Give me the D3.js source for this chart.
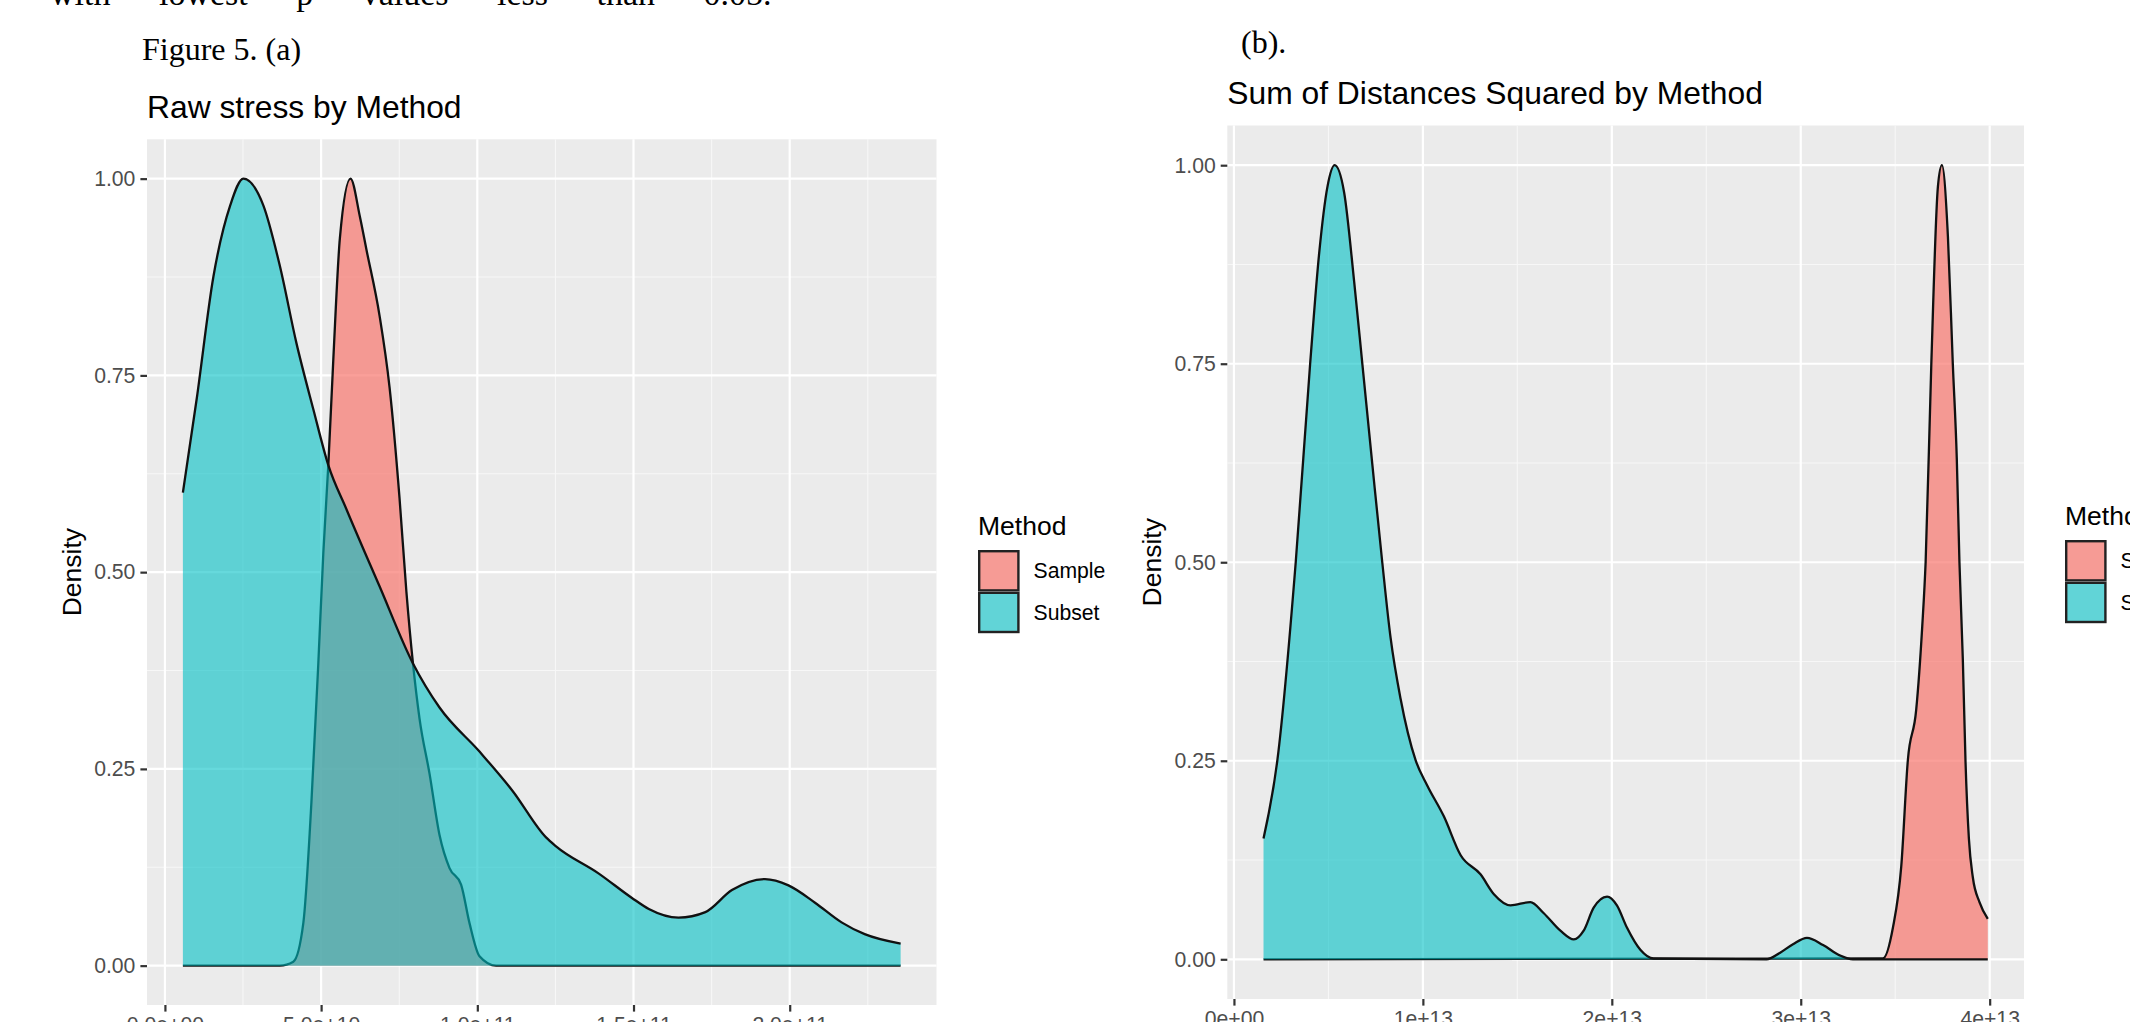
<!DOCTYPE html>
<html>
<head>
<meta charset="utf-8">
<script src="https://cdn.jsdelivr.net/npm/d3@7"></script>
<style>
  html, body { margin: 0; padding: 0; background: #fff; overflow: hidden; }
  svg { display: block; }
</style>
</head>
<body>
<div id="chart"></div>
<script>
// ---- data ----
// panel (a): raw stress, x in units of 1e10
let rawSample = [
  [0.575, 0], [3.68, 0], [4.11, 0.005], [4.43, 0.054], [4.69, 0.208], [4.91, 0.384],
  [5.07, 0.524], [5.23, 0.636], [5.39, 0.77], [5.6, 0.924], [5.94, 1.0], [6.24, 0.952],
  [6.45, 0.91], [6.87, 0.826], [7.19, 0.735], [7.51, 0.594], [7.73, 0.475], [7.94, 0.384],
  [8.15, 0.314], [8.47, 0.244], [8.79, 0.166], [9.11, 0.124], [9.48, 0.103], [9.75, 0.054],
  [10.07, 0.012], [10.6, 0], [23.55, 0]
];
let rawSubset = [
  [0.575, 0.601], [1.02, 0.721], [1.55, 0.875], [2.09, 0.966], [2.51, 1.0], [3.15, 0.966],
  [3.68, 0.889], [4.21, 0.791], [4.75, 0.707], [5.23, 0.636], [5.81, 0.58], [6.87, 0.482],
  [7.94, 0.384], [8.79, 0.328], [10.07, 0.272], [11.13, 0.222], [12.2, 0.163], [12.51, 0.152],
  [13.89, 0.117], [14.95, 0.086], [15.49, 0.072], [16.44, 0.061], [17.3, 0.068], [18.15, 0.096],
  [19.21, 0.11], [19.96, 0.102], [20.81, 0.08], [21.66, 0.055], [22.4, 0.04], [23.55, 0.028]
];
// panel (b): sum of distances squared, x in units of 1e12
let sdsSample = [
  [1.565, 0], [34.35, 0.001], [34.88, 0.04], [35.32, 0.117], [35.67, 0.251], [36.11, 0.314],
  [36.43, 0.419], [36.61, 0.5], [36.91, 0.749], [37.26, 0.973], [37.47, 1.0], [37.79, 0.91],
  [38.05, 0.749], [38.26, 0.63], [38.4, 0.5], [38.58, 0.377], [38.72, 0.25], [38.9, 0.152],
  [39.11, 0.103], [39.46, 0.072], [39.9, 0.051]
];
let sdsSubset = [
  [1.565, 0.152], [2.3, 0.251], [3.27, 0.5], [4.03, 0.749], [4.51, 0.889], [4.95, 0.973],
  [5.33, 1.0], [5.83, 0.966], [6.36, 0.854], [6.8, 0.749], [7.33, 0.622], [7.85, 0.5],
  [8.29, 0.405], [8.82, 0.328], [9.61, 0.251], [10.23, 0.219], [11.11, 0.18], [12.0, 0.131],
  [13.05, 0.107], [13.76, 0.082], [14.64, 0.068], [15.69, 0.072], [16.4, 0.058], [17.28, 0.036],
  [17.99, 0.025], [18.51, 0.036], [19.04, 0.065], [19.75, 0.079], [20.27, 0.068], [20.8, 0.04],
  [21.51, 0.012], [22.21, 0.001], [28.19, 0], [28.89, 0.008], [29.59, 0.019], [30.33, 0.027],
  [31.18, 0.018], [32.06, 0.005], [32.76, 0], [39.9, 0]
];

let methods = ["Sample", "Subset"];
let yTicks = [0, 0.25, 0.5, 0.75, 1];
let rawTicks = [0, 5, 10, 15, 20];
let rawTickLabels = ["0.0e+00", "5.0e+10", "1.0e+11", "1.5e+11", "2.0e+11"];
let sdsTicks = [0, 10, 20, 30, 40];
let sdsTickLabels = ["0e+00", "1e+13", "2e+13", "3e+13", "4e+13"];

let fillCol = { Sample: "rgba(248,118,109,0.7)", Subset: "rgba(0,191,196,0.6)" };

let W = 2130, H = 1022;
let sans = "'Liberation Sans', Arial, Helvetica, sans-serif",
  serif = "'Liberation Serif', 'Times New Roman', serif";

let svg = d3
  .select("#chart")
  .append("svg")
  .attr("width", W)
  .attr("height", H);

// document text around the figure (top line is cut by the page edge)
svg.append("text")
  .attr("x", 50).attr("y", 5)
  .style("font-family", serif).style("font-size", "34px")
  .style("word-spacing", "40px")
  .text("with lowest p values less than 0.05.");
svg.append("text")
  .attr("x", 142).attr("y", 60)
  .style("font-family", serif).style("font-size", "32px")
  .text("Figure 5. (a)");
svg.append("text")
  .attr("x", 1241).attr("y", 53)
  .style("font-family", serif).style("font-size", "32px")
  .text("(b).");

let drawPanel = (p) => {
  var g = svg.append("g");
  var all = p.series[0].concat(p.series[1]);
  var xExt = d3.extent(all, (d) => d[0]),
    pad = (xExt[1] - xExt[0]) * 0.05;

  var X = d3.scaleLinear().domain([xExt[0] - pad, xExt[1] + pad]).range([p.left, p.right]),
    Y = d3.scaleLinear().domain([-0.05, 1.05]).range([p.bottom, p.top]);

  // panel background + grid
  g.append("rect")
    .attr("x", p.left).attr("y", p.top)
    .attr("width", p.right - p.left).attr("height", p.bottom - p.top)
    .attr("fill", "#EBEBEB");

  var xMinor = p.ticks.slice(0, -1).map((t, i) => (t + p.ticks[i + 1]) / 2);
  xMinor.push(p.ticks[p.ticks.length - 1] + (p.ticks[1] - p.ticks[0]) / 2);
  xMinor = xMinor.filter((t) => t > X.domain()[0] && t < X.domain()[1]);
  var yMinor = [0.125, 0.375, 0.625, 0.875];

  g.selectAll(null).data(yMinor).enter().append("line")
    .attr("x1", p.left).attr("x2", p.right)
    .attr("y1", (d) => Y(d)).attr("y2", (d) => Y(d))
    .attr("stroke", "#F7F7F7").attr("stroke-width", 1.1);
  g.selectAll(null).data(xMinor).enter().append("line")
    .attr("y1", p.top).attr("y2", p.bottom)
    .attr("x1", (d) => X(d)).attr("x2", (d) => X(d))
    .attr("stroke", "#F7F7F7").attr("stroke-width", 1.1);
  g.selectAll(null).data(yTicks).enter().append("line")
    .attr("x1", p.left).attr("x2", p.right)
    .attr("y1", (d) => Y(d)).attr("y2", (d) => Y(d))
    .attr("stroke", "#fff").attr("stroke-width", 2.2);
  g.selectAll(null).data(p.ticks).enter().append("line")
    .attr("y1", p.top).attr("y2", p.bottom)
    .attr("x1", (d) => X(d)).attr("x2", (d) => X(d))
    .attr("stroke", "#fff").attr("stroke-width", 2.2);

  // densities
  var area = d3.area().curve(d3.curveMonotoneX)
      .x((d) => X(d[0])).y0(Y(0)).y1((d) => Y(d[1])),
    line = d3.line().curve(d3.curveMonotoneX)
      .x((d) => X(d[0])).y((d) => Y(d[1]));

  methods.forEach((m, i) => {
    g.append("path").attr("d", area(p.series[i])).attr("fill", fillCol[m]);
    g.append("path").attr("d", line(p.series[i]))
      .attr("fill", "none").attr("stroke", "#111").attr("stroke-width", 2.3);
  });

  // axes
  var yAxis = g.append("g")
    .attr("transform", `translate(${p.left},0)`)
    .call(d3.axisLeft(Y).tickValues(yTicks).tickFormat(d3.format(".2f")).tickSize(6.6).tickPadding(5));
  var xAxis = g.append("g")
    .attr("transform", `translate(0,${p.bottom})`)
    .call(d3.axisBottom(X).tickValues(p.ticks).tickFormat((d, i) => p.tickLabels[i]).tickSize(6.6).tickPadding(5));
  [yAxis, xAxis].forEach((a) => {
    a.select(".domain").remove();
    a.selectAll(".tick line").attr("stroke", "#333").attr("stroke-width", 2.2);
    a.selectAll(".tick text")
      .attr("fill", "#4D4D4D")
      .style("font-family", sans).style("font-size", "21.2px");
  });

  // titles
  g.append("text")
    .attr("x", p.left).attr("y", p.top - 21.3)
    .style("font-family", sans).style("font-size", "31.8px")
    .text(p.title);
  g.append("text")
    .attr("transform", `translate(${p.left - 66},${(p.top + p.bottom) / 2}) rotate(-90)`)
    .attr("text-anchor", "middle")
    .style("font-family", sans).style("font-size", "26.5px")
    .text("Density");

  // legend
  var lg = g.append("g").attr("transform", `translate(${p.legX},${p.legY})`);
  lg.append("text")
    .attr("x", 0).attr("y", -15)
    .style("font-family", sans).style("font-size", "26.5px")
    .text("Method");
  methods.forEach((m, i) => {
    lg.append("rect")
      .attr("x", 0).attr("y", i * 41.6)
      .attr("width", 41.6).attr("height", 41.6)
      .attr("fill", "#F2F2F2");
    lg.append("rect")
      .attr("x", 1.2).attr("y", i * 41.6 + 1.2)
      .attr("width", 39.2).attr("height", 39.2)
      .attr("fill", fillCol[m]).attr("stroke", "#222").attr("stroke-width", 2.4);
    lg.append("text")
      .attr("x", 55.5).attr("y", i * 41.6 + 20.8).attr("dy", "0.35em")
      .style("font-family", sans).style("font-size", "21.2px")
      .text(m);
  });
};

drawPanel({
  title: "Raw stress by Method",
  series: [rawSample, rawSubset],
  ticks: rawTicks, tickLabels: rawTickLabels,
  left: 147, right: 936.5, top: 139.3, bottom: 1005,
  legX: 978, legY: 550
});
drawPanel({
  title: "Sum of Distances Squared by Method",
  series: [sdsSample, sdsSubset],
  ticks: sdsTicks, tickLabels: sdsTickLabels,
  left: 1227.3, right: 2024, top: 125.5, bottom: 999,
  legX: 2065, legY: 540
});
</script>
</body>
</html>
